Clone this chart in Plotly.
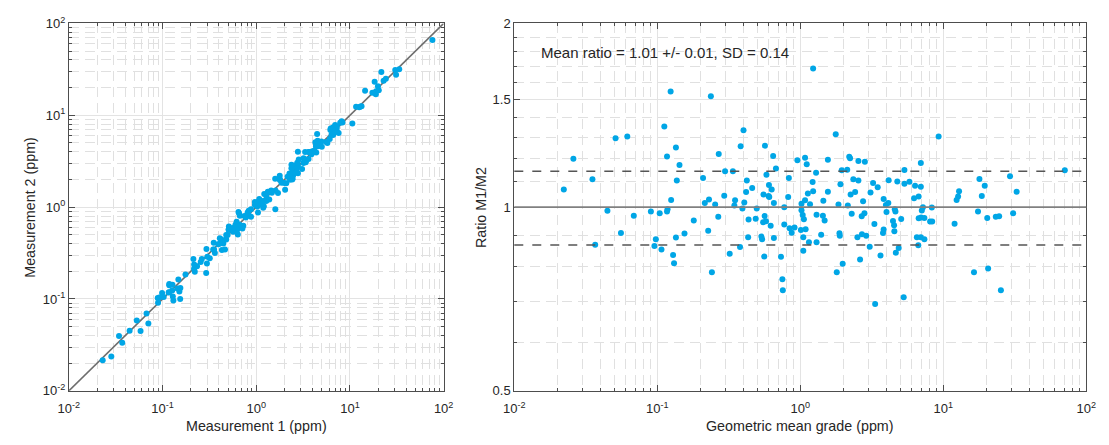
import numpy as np
import plotly.graph_objects as go

# ---- data (geometric mean grade, ratio M1/M2) ----
gm = [1.23, 0.124, 0.237, 0.112, 0.401, 1.77, 9.28, 0.0617, 0.0511, 0.383,
      0.566, 0.135, 0.269, 0.117, 0.646, 1.08, 0.955, 1.56, 2.20, 2.23,
      2.55, 2.83, 0.0259, 1.11, 6.97, 0.143, 0.676, 0.298, 0.338, 1.29,
      1.95, 2.13, 5.35, 70.8, 29.3, 0.580, 0.209, 0.0352, 0.137, 0.832,
      0.423, 2.35, 2.55, 4.15, 4.77, 5.35, 5.80, 3.23, 17.9, 1.22,
      1.91, 0.604, 0.461, 0.631, 3.48, 6.35, 6.97, 19.5, 0.0222, 0.418,
      1.13, 1.23, 1.56, 2.25, 2.42, 3.10, 12.9, 32.6, 0.294, 0.553,
      0.600, 0.607, 0.823, 6.73, 6.25, 12.7, 12.4, 18.6, 0.230, 0.350,
      0.125, 0.215, 0.406, 0.654, 1.02, 1.08, 1.17, 1.45, 1.85, 2.15,
      2.75, 3.83, 4.13, 3.97, 0.254, 0.346, 0.394, 0.496, 0.773, 1.02,
      4.01, 4.58, 4.63, 7.21, 8.32, 7.08, 0.0448, 0.0902, 0.104, 0.118,
      0.117, 17.5, 30.8, 0.0685, 0.267, 0.563, 1.04, 1.30, 1.44, 2.29,
      2.81, 2.69, 7.00, 6.73, 7.38, 5.08, 20.3, 23.3, 24.6, 0.180,
      0.435, 0.488, 0.550, 0.576, 1.06, 1.48, 4.45, 4.53, 3.30, 8.09,
      8.37, 12.0, 0.621, 0.773, 0.842, 0.912, 0.871, 1.01, 1.09, 3.83,
      3.79, 4.55, 0.0557, 0.227, 0.155, 1.88, 1.89, 1.40, 2.70, 2.89,
      2.51, 0.432, 0.535, 0.541, 0.654, 1.05, 0.135, 0.0977, 6.54, 6.97,
      7.38, 1.15, 1.30, 0.0368, 0.0955, 0.379, 6.69, 3.06, 4.88, 0.107,
      1.05, 4.66, 0.129, 0.321, 0.560, 0.733, 3.64, 2.62, 0.131, 1.98,
      0.241, 1.80, 16.4, 20.6, 0.750, 0.755, 25.3, 5.29, 3.34]

ratio = [1.688, 1.547, 1.519, 1.356, 1.337, 1.317, 1.306, 1.306, 1.297, 1.258,
         1.261, 1.252, 1.222, 1.210, 1.213, 1.205, 1.193, 1.196, 1.209, 1.202,
         1.190, 1.187, 1.200, 1.176, 1.181, 1.172, 1.157, 1.145, 1.145, 1.139,
         1.149, 1.152, 1.150, 1.149, 1.124, 1.130, 1.116, 1.111, 1.106, 1.116,
         1.106, 1.111, 1.106, 1.107, 1.102, 1.092, 1.100, 1.095, 1.112, 1.099,
         1.090, 1.087, 1.075, 1.069, 1.078, 1.084, 1.080, 1.084, 1.069, 1.059,
         1.053, 1.062, 1.060, 1.049, 1.059, 1.057, 1.062, 1.060, 1.044, 1.049,
         1.043, 1.039, 1.039, 1.041, 1.034, 1.041, 1.027, 1.043, 1.029, 1.026,
         1.027, 1.016, 1.018, 1.016, 1.013, 1.026, 1.011, 1.024, 1.010, 1.006,
         1.022, 1.031, 1.016, 1.008, 1.010, 1.006, 0.995, 0.995, 1.000, 0.988,
         0.982, 0.992, 0.984, 1.000, 0.999, 0.987, 0.986, 0.984, 0.977, 0.992,
         0.984, 0.984, 0.977, 0.968, 0.964, 0.967, 0.971, 0.972, 0.968, 0.975,
         0.977, 0.966, 0.962, 0.959, 0.960, 0.956, 0.960, 0.964, 0.966, 0.951,
         0.954, 0.957, 0.945, 0.948, 0.955, 0.951, 0.949, 0.934, 0.938, 0.947,
         0.947, 0.939, 0.932, 0.937, 0.923, 0.926, 0.908, 0.917, 0.920, 0.919,
         0.907, 0.913, 0.907, 0.915, 0.905, 0.906, 0.898, 0.901, 0.903, 0.898,
         0.893, 0.893, 0.895, 0.886, 0.890, 0.893, 0.892, 0.886, 0.893, 0.893,
         0.886, 0.876, 0.876, 0.868, 0.864, 0.860, 0.866, 0.861, 0.857, 0.852,
         0.848, 0.842, 0.835, 0.839, 0.830, 0.829, 0.833, 0.821, 0.809, 0.808,
         0.782, 0.782, 0.782, 0.793, 0.762, 0.731, 0.731, 0.712, 0.694]

one_to_one = [0.01, 100]
ratio_center = 1.0
ratio_limits = [0.867, 1.145]
stats_text = "Mean ratio = 1.01 +/- 0.01, SD = 0.14"

log_ticks = [0.01, 0.1, 1, 10, 100]
log_tick_labels = ["10<sup>-2</sup>", "10<sup>-1</sup>", "10<sup>0</sup>",
                   "10<sup>1</sup>", "10<sup>2</sup>"]
log_minor = [k * 10.0 ** e for e in range(-2, 2) for k in range(2, 10)]
ratio_ticks = [0.5, 1, 1.5, 2]
ratio_tick_labels = ["0.5", "1", "1.5", "2"]
ratio_minor = [0.6, 0.7, 0.8, 0.9, 1.1, 1.2, 1.3, 1.4, 1.6, 1.7, 1.8, 1.9]

# Measurement 1 and 2 recovered from geometric mean and ratio
gm_a = np.array(gm)
r_a = np.array(ratio)
m1 = gm_a * np.sqrt(r_a)
m2 = gm_a / np.sqrt(r_a)

W, H = 1109, 445
FONT = "Liberation Sans, Arial, Helvetica, sans-serif"
TXT = "#262626"
AX = "#4d4d4d"
DOT = "#00A6E6"

fig = go.Figure()
fig.add_trace(go.Scatter(x=one_to_one, y=one_to_one, mode="lines",
                         line=dict(color="#6e6e6e", width=1.6),
                         xaxis="x", yaxis="y", showlegend=False, hoverinfo="skip"))
fig.add_trace(go.Scatter(x=m1, y=m2, mode="markers",
                         marker=dict(color=DOT, size=6, line=dict(width=0)),
                         xaxis="x", yaxis="y", showlegend=False))
fig.add_trace(go.Scatter(x=gm, y=ratio, mode="markers",
                         marker=dict(color=DOT, size=6, line=dict(width=0)),
                         xaxis="x2", yaxis="y2", showlegend=False))


def px_x(p):
    return p / W


def px_y(p):
    return (H - p) / H


minor_common = dict(showgrid=True, gridcolor="#e0e0e0", griddash="10px,6px",
                    gridwidth=1, ticks="inside", ticklen=3, tickcolor=AX)

axis_common = dict(showline=True, linecolor=AX, linewidth=1, mirror="allticks",
                   ticks="inside", ticklen=6, tickcolor=AX, showgrid=True,
                   gridcolor="#e3e3e3", gridwidth=1, zeroline=False,
                   tickfont=dict(family=FONT, size=13, color=TXT))

dom_y = [px_y(397), px_y(15)]

fig.update_layout(
    width=W, height=H,
    margin=dict(l=0, r=0, t=0, b=0),
    paper_bgcolor="white", plot_bgcolor="white",
    font=dict(family=FONT, size=13, color=TXT),
    xaxis=dict(axis_common, type="log", range=[-2, 2], domain=[px_x(59), px_x(441)],
               tickvals=log_ticks, ticktext=log_tick_labels, anchor="y",
               ticklabelstandoff=6,
               minor=dict(minor_common, tickvals=log_minor)),
    yaxis=dict(axis_common, type="log", range=[-2, 2], domain=dom_y,
               tickvals=log_ticks, ticktext=log_tick_labels, anchor="x",
               minor=dict(minor_common, tickvals=log_minor)),
    xaxis2=dict(axis_common, type="log", range=[-2, 2], domain=[px_x(513), px_x(1096)],
                tickvals=log_ticks, ticktext=log_tick_labels, anchor="y2",
                ticklabelstandoff=6,
                minor=dict(minor_common, tickvals=log_minor)),
    yaxis2=dict(axis_common, type="log", range=[np.log10(0.5), np.log10(2)], domain=dom_y,
                tickvals=ratio_ticks, ticktext=ratio_tick_labels, anchor="x2",
                minor=dict(minor_common, tickvals=ratio_minor)),
)

# reference lines on the ratio panel
fig.add_shape(type="line", xref="x2 domain", yref="y2", x0=0, x1=1,
              y0=ratio_center, y1=ratio_center, line=dict(color="#808080", width=1.6))
for lim in ratio_limits:
    fig.add_shape(type="line", xref="x2 domain", yref="y2", x0=0, x1=1,
                  y0=lim, y1=lim, line=dict(color="#555555", width=1.4, dash="dash"))

title_font = dict(family=FONT, size=14.3, color=TXT)
fig.add_annotation(text="Measurement 1 (ppm)", x=px_x(250), y=px_y(434),
                   xref="paper", yref="paper", showarrow=False, font=title_font,
                   xanchor="center", yanchor="middle")
fig.add_annotation(text="Measurement 2 (ppm)", x=px_x(19), y=px_y(206),
                   xref="paper", yref="paper", showarrow=False, font=title_font,
                   textangle=-90, xanchor="center", yanchor="middle")
fig.add_annotation(text="Geometric mean grade (ppm)", x=px_x(804.5), y=px_y(434),
                   xref="paper", yref="paper", showarrow=False, font=title_font,
                   xanchor="center", yanchor="middle")
fig.add_annotation(text="Ratio M1/M2", x=px_x(479), y=px_y(206),
                   xref="paper", yref="paper", showarrow=False, font=title_font,
                   textangle=-90, xanchor="center", yanchor="middle")
fig.add_annotation(text=stats_text, x=px_x(538), y=px_y(45),
                   xref="paper", yref="paper", showarrow=False,
                   font=dict(family=FONT, size=15, color=TXT),
                   xanchor="left", yanchor="middle")

fig.write_html("out.html", config={"displayModeBar": False},
               post_script="document.body.style.margin='0';document.body.style.overflow='hidden';")
